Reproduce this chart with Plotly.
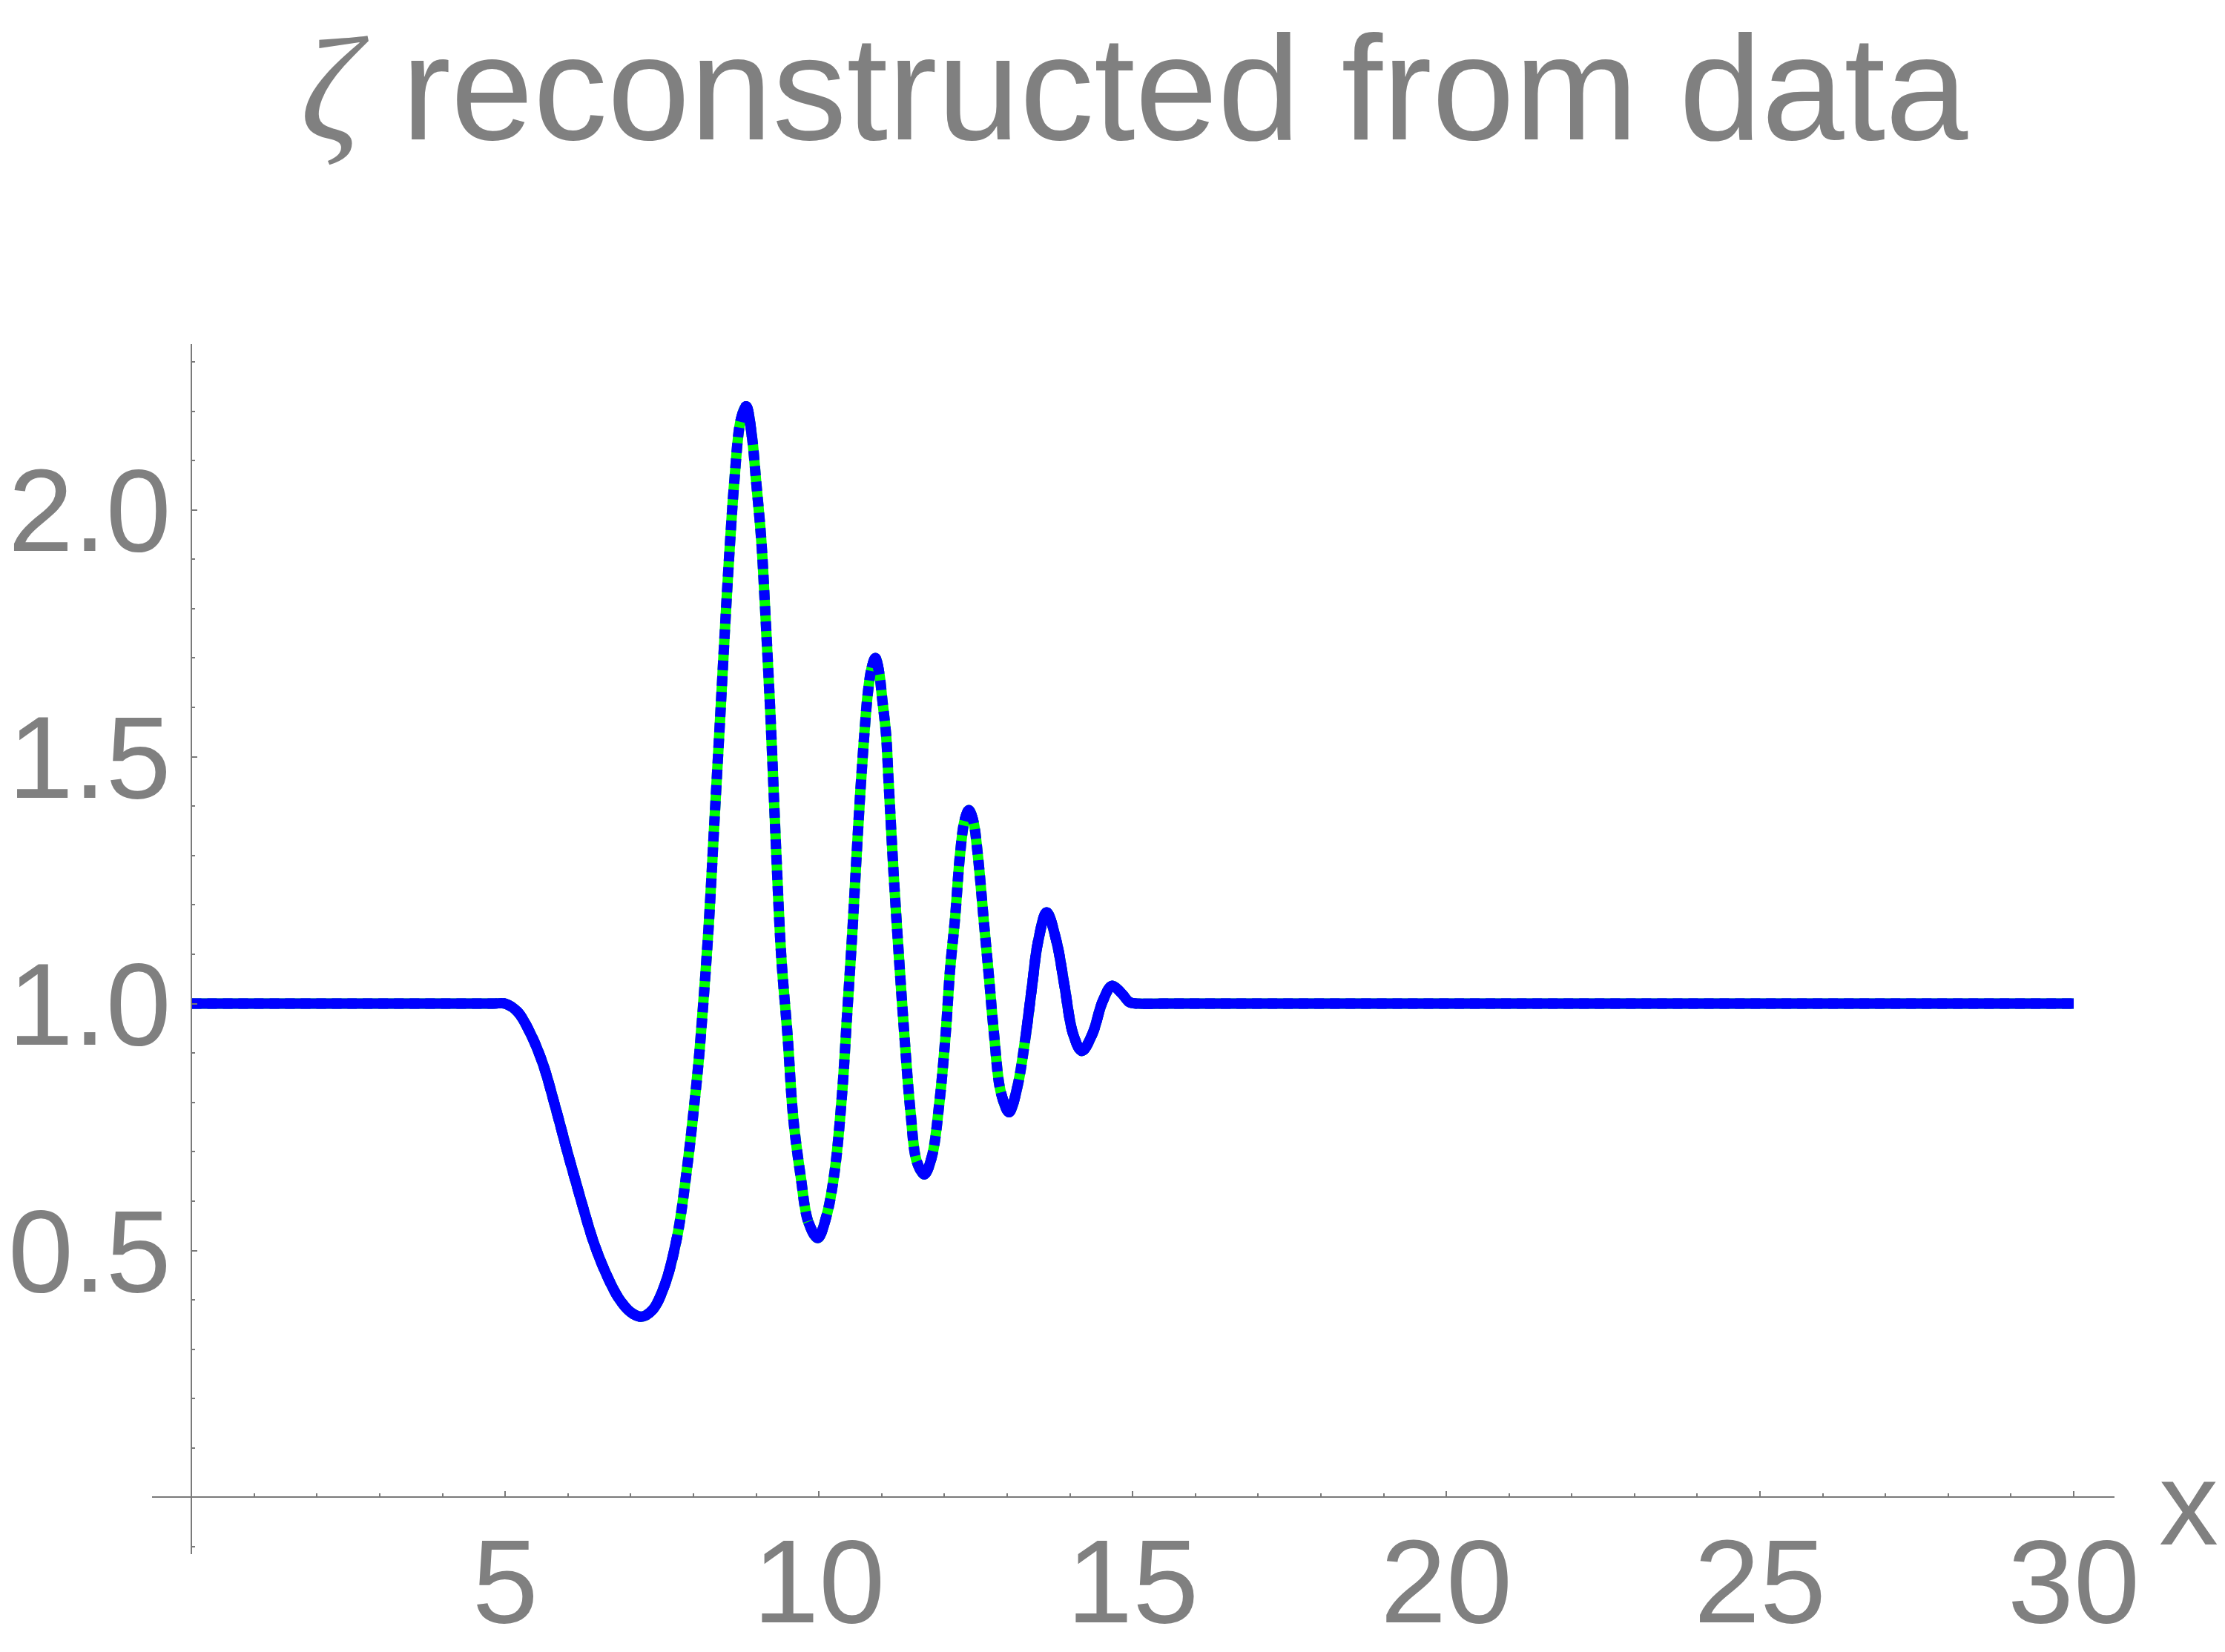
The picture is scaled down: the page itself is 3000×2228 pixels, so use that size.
import numpy as np
import plotly.graph_objects as go

# ==========================================
# 1. DATA
# ==========================================
x_vals = [0.0, 2.5, 4.8, 5.0, 5.2, 5.4, 5.6, 5.8, 6.0, 6.2, 6.4, 6.6, 6.8, 7.0, 7.17, 7.35,
          7.55, 7.74, 7.90, 8.02, 8.10, 8.24, 8.33, 8.43, 8.53, 8.59, 8.65, 8.75, 8.84, 8.93,
          9.00, 9.08, 9.14, 9.23, 9.32, 9.40, 9.50, 9.59, 9.71, 9.83, 9.98, 10.12, 10.25,
          10.37, 10.45, 10.53, 10.60, 10.66, 10.72, 10.78, 10.84, 10.90, 10.96, 11.01, 11.07,
          11.11, 11.19, 11.27, 11.36, 11.46, 11.56, 11.68, 11.80, 11.92, 12.02, 12.09, 12.17,
          12.25, 12.32, 12.39, 12.46, 12.53, 12.63, 12.71, 12.79, 12.90, 13.03, 13.16, 13.30,
          13.40, 13.49, 13.63, 13.79, 13.91, 14.05, 14.19, 14.36, 14.52, 14.67, 14.83, 14.95,
          15.1, 15.5, 20.0, 25.0, 30.0]
zeta_vals = [1.0, 1.0, 1.0, 1.0, 0.983, 0.94, 0.878, 0.79, 0.695, 0.605, 0.52, 0.455, 0.405,
             0.375, 0.366, 0.38, 0.433, 0.528, 0.669, 0.804, 0.909, 1.152, 1.36, 1.59, 1.823,
             1.948, 2.056, 2.18, 2.21, 2.15, 2.056, 1.94, 1.805, 1.575, 1.304, 1.094, 0.935,
             0.769, 0.649, 0.558, 0.525, 0.57, 0.66, 0.82, 0.98, 1.14, 1.30, 1.43, 1.54, 1.63,
             1.68, 1.70, 1.67, 1.615, 1.545, 1.45, 1.264, 1.104, 0.939, 0.78, 0.68, 0.654, 0.69,
             0.80, 0.939, 1.069, 1.174, 1.304, 1.37, 1.392, 1.37, 1.304, 1.164, 1.054, 0.939,
             0.82, 0.78, 0.83, 0.939, 1.039, 1.124, 1.185, 1.124, 1.039, 0.939, 0.904, 0.939,
             1.004, 1.036, 1.02, 1.003, 1.0, 1.0, 1.0, 1.0, 1.0]

x_ticks = [5, 10, 15, 20, 25, 30]
y_ticks = [0.5, 1.0, 1.5, 2.0]
y_tick_labels = ["0.5", "1.0", "1.5", "2.0"]

title_text = ('<span style="font-family:Liberation Serif"><i>ζ</i></span>'
              ' reconstructed from data')

# ==========================================
# 2. STYLE
# ==========================================
GRAY = "#808080"
AXIS_GRAY = "#7a7a7a"
BLUE = "#0000ff"
GREEN = "#00ff00"
FONT = "Liberation Sans"
LW = 14
SMOOTH = 1.0

x_range = [-0.63, 30.65]
y_range = [-0.115, 2.336]

# where the blue curve looks solid (its dots overlap); elsewhere it is dotted
solid_spans = [(0, 7.74), (8.75, 8.93), (9.83, 10.12), (10.84, 10.96),
               (11.56, 11.80), (12.32, 12.46), (12.90, 13.16), (13.30, 30.0)]

xs = np.array(x_vals)
zs = np.array(zeta_vals)


def span(a, b):
    m = (xs >= a) & (xs <= b)
    return xs[m], zs[m]


fig = go.Figure()

# exact curve (green, solid underneath)
fig.add_trace(go.Scatter(x=xs, y=zs, mode="lines",
                         line=dict(color=GREEN, width=LW, shape="spline", smoothing=SMOOTH),
                         showlegend=False, hoverinfo="skip"))

# reconstruction (blue dotted on top)
fig.add_trace(go.Scatter(x=xs, y=zs, mode="lines",
                         line=dict(color=BLUE, width=LW, shape="spline", smoothing=SMOOTH,
                                   dash="13px,8px"),
                         showlegend=False, hoverinfo="skip"))

for a, b in solid_spans:
    sx, sz = span(a, b)
    fig.add_trace(go.Scatter(x=sx, y=sz, mode="lines",
                             line=dict(color=BLUE, width=LW, shape="spline", smoothing=SMOOTH),
                             showlegend=False, hoverinfo="skip"))

# x axis label at the end of the axis
fig.add_annotation(x=1.0, xref="paper", y=0, yref="y", text="x", showarrow=False,
                   xanchor="left", yanchor="middle", xshift=58, yshift=-8,
                   font=dict(family=FONT, size=160, color=GRAY))

fig.update_layout(
    template="none",
    width=3000, height=2228,
    paper_bgcolor="white", plot_bgcolor="white",
    margin=dict(l=197, r=157, t=456, b=140, autoexpand=False),
    title=dict(text=title_text, x=0.507, xanchor="center", y=0.982, yanchor="top",
               yref="container", font=dict(family=FONT, size=200, color=GRAY)),
    xaxis=dict(range=x_range, anchor="free", position=(0 - y_range[0]) / (y_range[1] - y_range[0]),
               automargin=False,
               showline=True, linecolor=AXIS_GRAY, linewidth=2,
               showgrid=False, zeroline=False,
               tickvals=x_ticks, ticks="inside", ticklen=7, tickwidth=2, tickcolor=AXIS_GRAY,
               minor=dict(dtick=1, tick0=0, ticks="inside", ticklen=4, tickwidth=1.5,
                          tickcolor=AXIS_GRAY, showgrid=False),
               tickfont=dict(family=FONT, size=160, color=GRAY), ticklabelstandoff=-24),
    yaxis=dict(range=y_range, anchor="free", position=(0 - x_range[0]) / (x_range[1] - x_range[0]),
               automargin=False,
               showline=True, linecolor=AXIS_GRAY, linewidth=2,
               showgrid=False, zeroline=False,
               tickvals=y_ticks, ticktext=y_tick_labels, ticks="inside", ticklen=7, tickwidth=2,
               tickcolor=AXIS_GRAY,
               minor=dict(dtick=0.1, tick0=0, ticks="inside", ticklen=4, tickwidth=1.5,
                          tickcolor=AXIS_GRAY, showgrid=False),
               tickfont=dict(family=FONT, size=158, color=GRAY), ticklabelstandoff=-5),
)

fig.write_html("out.html")
